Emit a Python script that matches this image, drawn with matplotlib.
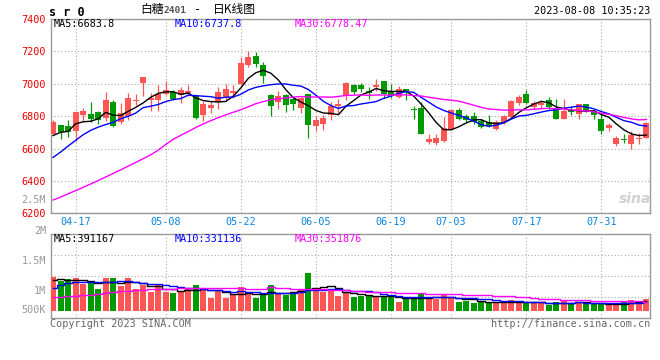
import numpy as np
import pandas as pd
import matplotlib
matplotlib.use("Agg")
import matplotlib.pyplot as plt

plt.rcParams['font.family'] = ['DejaVu Sans Mono', 'Noto Sans CJK SC']

# trading days 2023-04-12 .. 2023-08-08 (holidays removed)
holidays = ['2023-05-01', '2023-05-02', '2023-05-03', '2023-06-22', '2023-06-23']
dates = [d for d in pd.bdate_range('2023-04-12', '2023-08-08') if d.strftime('%Y-%m-%d') not in holidays]
tick_labels = ['04-17', '05-08', '05-22', '06-05', '06-19', '07-03', '07-17', '07-31']

open_p = [6692, 6748, 6737, 6707, 6809, 6811, 6823, 6791, 6887, 6764,
          6799, 6893, 7004, 6897, 6900, 6938, 6949, 6928, 6942, 6922,
          6805, 6850, 6887, 6918, 6942, 6996, 7113, 7174, 7113, 6928,
          6887, 6928, 6903, 6850, 6934, 6739, 6754, 6805, 6862, 6924,
          6990, 6990, 6953, 6979, 7014, 6953, 6918, 6965, 6846, 6850,
          6641, 6637, 6647, 6723, 6836, 6799, 6799, 6768, 6764, 6723,
          6764, 6795, 6881, 6934, 6856, 6866, 6897, 6846, 6784, 6840,
          6815, 6873, 6825, 6780, 6727, 6631, 6657, 6631, 6657, 6668]
high_p = [6778, 6748, 6774, 6832, 6850, 6887, 6830, 6949, 6901, 6881,
          6944, 6938, 7041, 6942, 6990, 7020, 6963, 6979, 6990, 6928,
          6893, 6891, 6979, 6996, 6990, 7164, 7205, 7195, 7133, 6938,
          6955, 6934, 6918, 6918, 6938, 6799, 6809, 6887, 6907, 7010,
          7000, 7006, 6983, 7027, 7020, 7000, 6985, 6969, 6860, 6887,
          6692, 6692, 6795, 6840, 6850, 6815, 6825, 6784, 6805, 6774,
          6809, 6901, 6928, 6963, 6891, 6897, 6918, 6903, 6903, 6860,
          6877, 6873, 6836, 6815, 6758, 6676, 6688, 6709, 6698, 6764]
low_p = [6688, 6659, 6672, 6647, 6764, 6764, 6754, 6770, 6733, 6754,
         6778, 6866, 6924, 6832, 6832, 6930, 6897, 6881, 6922, 6784,
         6770, 6819, 6846, 6901, 6914, 6990, 7106, 7102, 7004, 6799,
         6846, 6825, 6836, 6819, 6665, 6709, 6713, 6774, 6815, 6901,
         6938, 6948, 6903, 6955, 6914, 6914, 6914, 6897, 6784, 6688,
         6626, 6620, 6641, 6717, 6774, 6764, 6754, 6729, 6733, 6713,
         6754, 6788, 6866, 6877, 6846, 6852, 6846, 6780, 6780, 6805,
         6784, 6825, 6784, 6692, 6709, 6614, 6635, 6600, 6631, 6665]
close_p = [6764, 6702, 6702, 6826, 6832, 6780, 6778, 6901, 6739, 6819,
           6910, 6901, 7041, 6912, 6938, 6959, 6904, 6959, 6953, 6789,
           6877, 6871, 6948, 6969, 6953, 7131, 7168, 7119, 7047, 6860,
           6922, 6867, 6873, 6914, 6743, 6778, 6789, 6862, 6873, 7006,
           6948, 6965, 6946, 6990, 6938, 6924, 6965, 6953, 6840, 6692,
           6657, 6665, 6729, 6836, 6784, 6774, 6764, 6733, 6737, 6764,
           6801, 6893, 6918, 6881, 6881, 6881, 6856, 6784, 6832, 6825,
           6873, 6832, 6809, 6709, 6743, 6665, 6651, 6682, 6661, 6758]
# volume in thousands of lots
volume_k = [976, 888, 936, 952, 817, 849, 698, 952, 952, 769,
            952, 698, 785, 634, 785, 634, 603, 634, 714, 785,
            698, 492, 650, 492, 579, 738, 579, 492, 555, 785,
            611, 555, 579, 674, 1086, 722, 634, 690, 531, 595,
            516, 531, 555, 516, 531, 500, 397, 476, 476, 579,
            500, 452, 579, 476, 397, 420, 373, 397, 397, 357,
            357, 436, 397, 357, 357, 357, 317, 397, 412, 373,
            397, 333, 357, 357, 317, 317, 412, 436, 412, 460]

# moving-average values for days whose window starts before the chart
ma5_head = [6680, 6700, 6706, 6752]
ma10_head = [6545, 6578, 6615, 6650, 6685, 6712, 6732, 6748, 6762]
ma30_head = [6282, 6300, 6320, 6340, 6360, 6381, 6402, 6424, 6446, 6468,
             6491, 6514, 6537, 6561, 6590, 6625, 6657, 6682, 6705, 6730,
             6752, 6772, 6791, 6808, 6824, 6840, 6858, 6877, 6890]
vma5_head = [912, 925, 918, 905]
vma10_head = [714, 790, 845, 870, 872, 870, 865, 860, 855]
vma30_head = [500, 510, 520, 535, 550, 565, 580, 600, 625, 640,
              655, 670, 680, 690, 700, 705, 708, 710, 712, 714,
              714, 714, 714, 712, 712, 710, 708, 706, 704]

price_legend = ['MA5:6683.8', 'MA10:6737.8', 'MA30:6778.47']
vol_legend = ['MA5:391167', 'MA10:331136', 'MA30:351876']
price_ticks = [6200, 6400, 6600, 6800, 7000, 7200, 7400]


def moving(values, n, head):
    out = pd.Series(values, dtype=float).rolling(n).mean().to_numpy()
    out[:len(head)] = head
    return out


ma5 = moving(close_p, 5, ma5_head)
ma10 = moving(close_p, 10, ma10_head)
ma30 = moving(close_p, 30, ma30_head)
vma5 = moving(volume_k, 5, vma5_head)
vma10 = moving(volume_k, 10, vma10_head)
vma30 = moving(volume_k, 30, vma30_head)

RED = '#ff5555'
GREEN = '#009900'
GRID = '#aaaaaa'
SPINE = '#999999'
W, H = 660, 360

o = np.array(open_p); c = np.array(close_p)
hi = np.array(high_p); lo = np.array(low_p)
x = np.arange(len(c))
up = c >= o
colors = np.where(up, RED, GREEN)
date_str = [d.strftime('%m-%d') for d in dates]
tick_idx = [date_str.index(t) for t in tick_labels]

fig = plt.figure(figsize=(6.6, 3.6), dpi=100)
ax = fig.add_axes([51 / W, 1 - 213.3 / H, 599 / W, 194.3 / H])
axv = fig.add_axes([51 / W, 1 - 318.3 / H, 599 / W, 84 / H])


def ftext(px, py, s, **kw):
    fig.text(px / W, 1 - py / H, s, va='center', **kw)


# candles
ax.vlines(x, lo, hi, colors=colors, lw=0.9, zorder=2)
body = np.maximum(np.abs(c - o), 6)
ax.bar(x, body, bottom=np.minimum(o, c), width=0.8, color=colors, lw=0, zorder=3)
ax.plot(x, ma5, color='black', lw=1, zorder=4)
ax.plot(x, ma10, color='#0000ff', lw=1, zorder=4)
ax.plot(x, ma30, color='#ff00ff', lw=1, zorder=4)

ax.set_xlim(-0.27, 79.47)
ax.set_ylim(6200, 7400)
ax.set_yticks(price_ticks)
ax.set_yticklabels([str(t) for t in price_ticks])
ax.set_xticks(tick_idx)
ax.set_xticklabels(tick_labels)
ax.tick_params(axis='y', length=0, pad=4, labelsize=7.3, labelcolor='#ee0000')
ax.tick_params(axis='x', length=0, pad=3, labelsize=7.3, labelcolor='#0a84e0')
ax.grid(True, color=GRID, ls=(0, (1, 2)), lw=0.8)
ax.set_axisbelow(True)
for s in ax.spines.values():
    s.set_color(SPINE)
    s.set_linewidth(1)

# volume
vol_floor = 181
v = np.array(volume_k)
axv.bar(x, v - vol_floor, bottom=vol_floor, width=0.8, color=colors, lw=0, zorder=3)
axv.plot(x, vma5, color='black', lw=1, drawstyle='steps-mid', zorder=4)
axv.plot(x, vma10, color='#0000ff', lw=1, drawstyle='steps-mid', zorder=4)
axv.plot(x, vma30, color='#ff00ff', lw=1, drawstyle='steps-mid', zorder=4)
axv.set_xlim(-0.27, 79.47)
axv.set_ylim(0, 2000)
axv.set_yticks([500, 1000, 1500])
axv.set_xticks(tick_idx)
axv.tick_params(length=0, labelleft=False, labelbottom=False)
axv.grid(True, color=GRID, ls=(0, (1, 2)), lw=0.8)
axv.set_axisbelow(True)
for s in axv.spines.values():
    s.set_color(SPINE)
    s.set_linewidth(1)

# volume labels (drawn as in the source, off the grid lines)
for lab, py in [('2M', 230.7), ('1.5M', 261), ('1M', 290.7), ('500K', 310), ('2.5M', 200.3)]:
    ftext(46, py, lab, ha='right', fontsize=7.3, color='#999999')

# header
ftext(49, 12, 's r 0', fontsize=8.5, fontweight='bold', color='black')
ftext(140, 10, '白糖', fontsize=8.5, family=['Noto Sans CJK SC'], color='black')
ftext(163, 10.5, '2401', fontsize=6.8, fontweight='bold', color='#555555')
ftext(198, 10, '-', fontsize=8.5, ha='center', color='black')
ftext(213, 10, '日K线图', fontsize=8.5, family=['Noto Sans CJK SC'], color='black')
ftext(650, 11.5, '2023-08-08 10:35:23', ha='right', fontsize=7.3, color='black')

for lab, px, col in zip(price_legend, [54, 175, 295], ['black', '#0000ff', '#ff00ff']):
    ftext(px, 24, lab, fontsize=7.3, color=col)
for lab, px, col in zip(vol_legend, [54, 175, 295], ['black', '#0000ff', '#ff00ff']):
    ftext(px, 238.7, lab, fontsize=7.3, color=col)

ftext(635, 199, 'sina', ha='center', fontsize=10, style='italic', fontweight='bold',
      family=['DejaVu Sans'], color='#d0d0d0')

ftext(50, 324, 'Copyright 2023 SINA.COM', fontsize=7.3, color='#666666')
ftext(650, 324, 'http://finance.sina.com.cn', ha='right', fontsize=7.3, color='#666666')

fig.savefig('out.png', dpi=100)
